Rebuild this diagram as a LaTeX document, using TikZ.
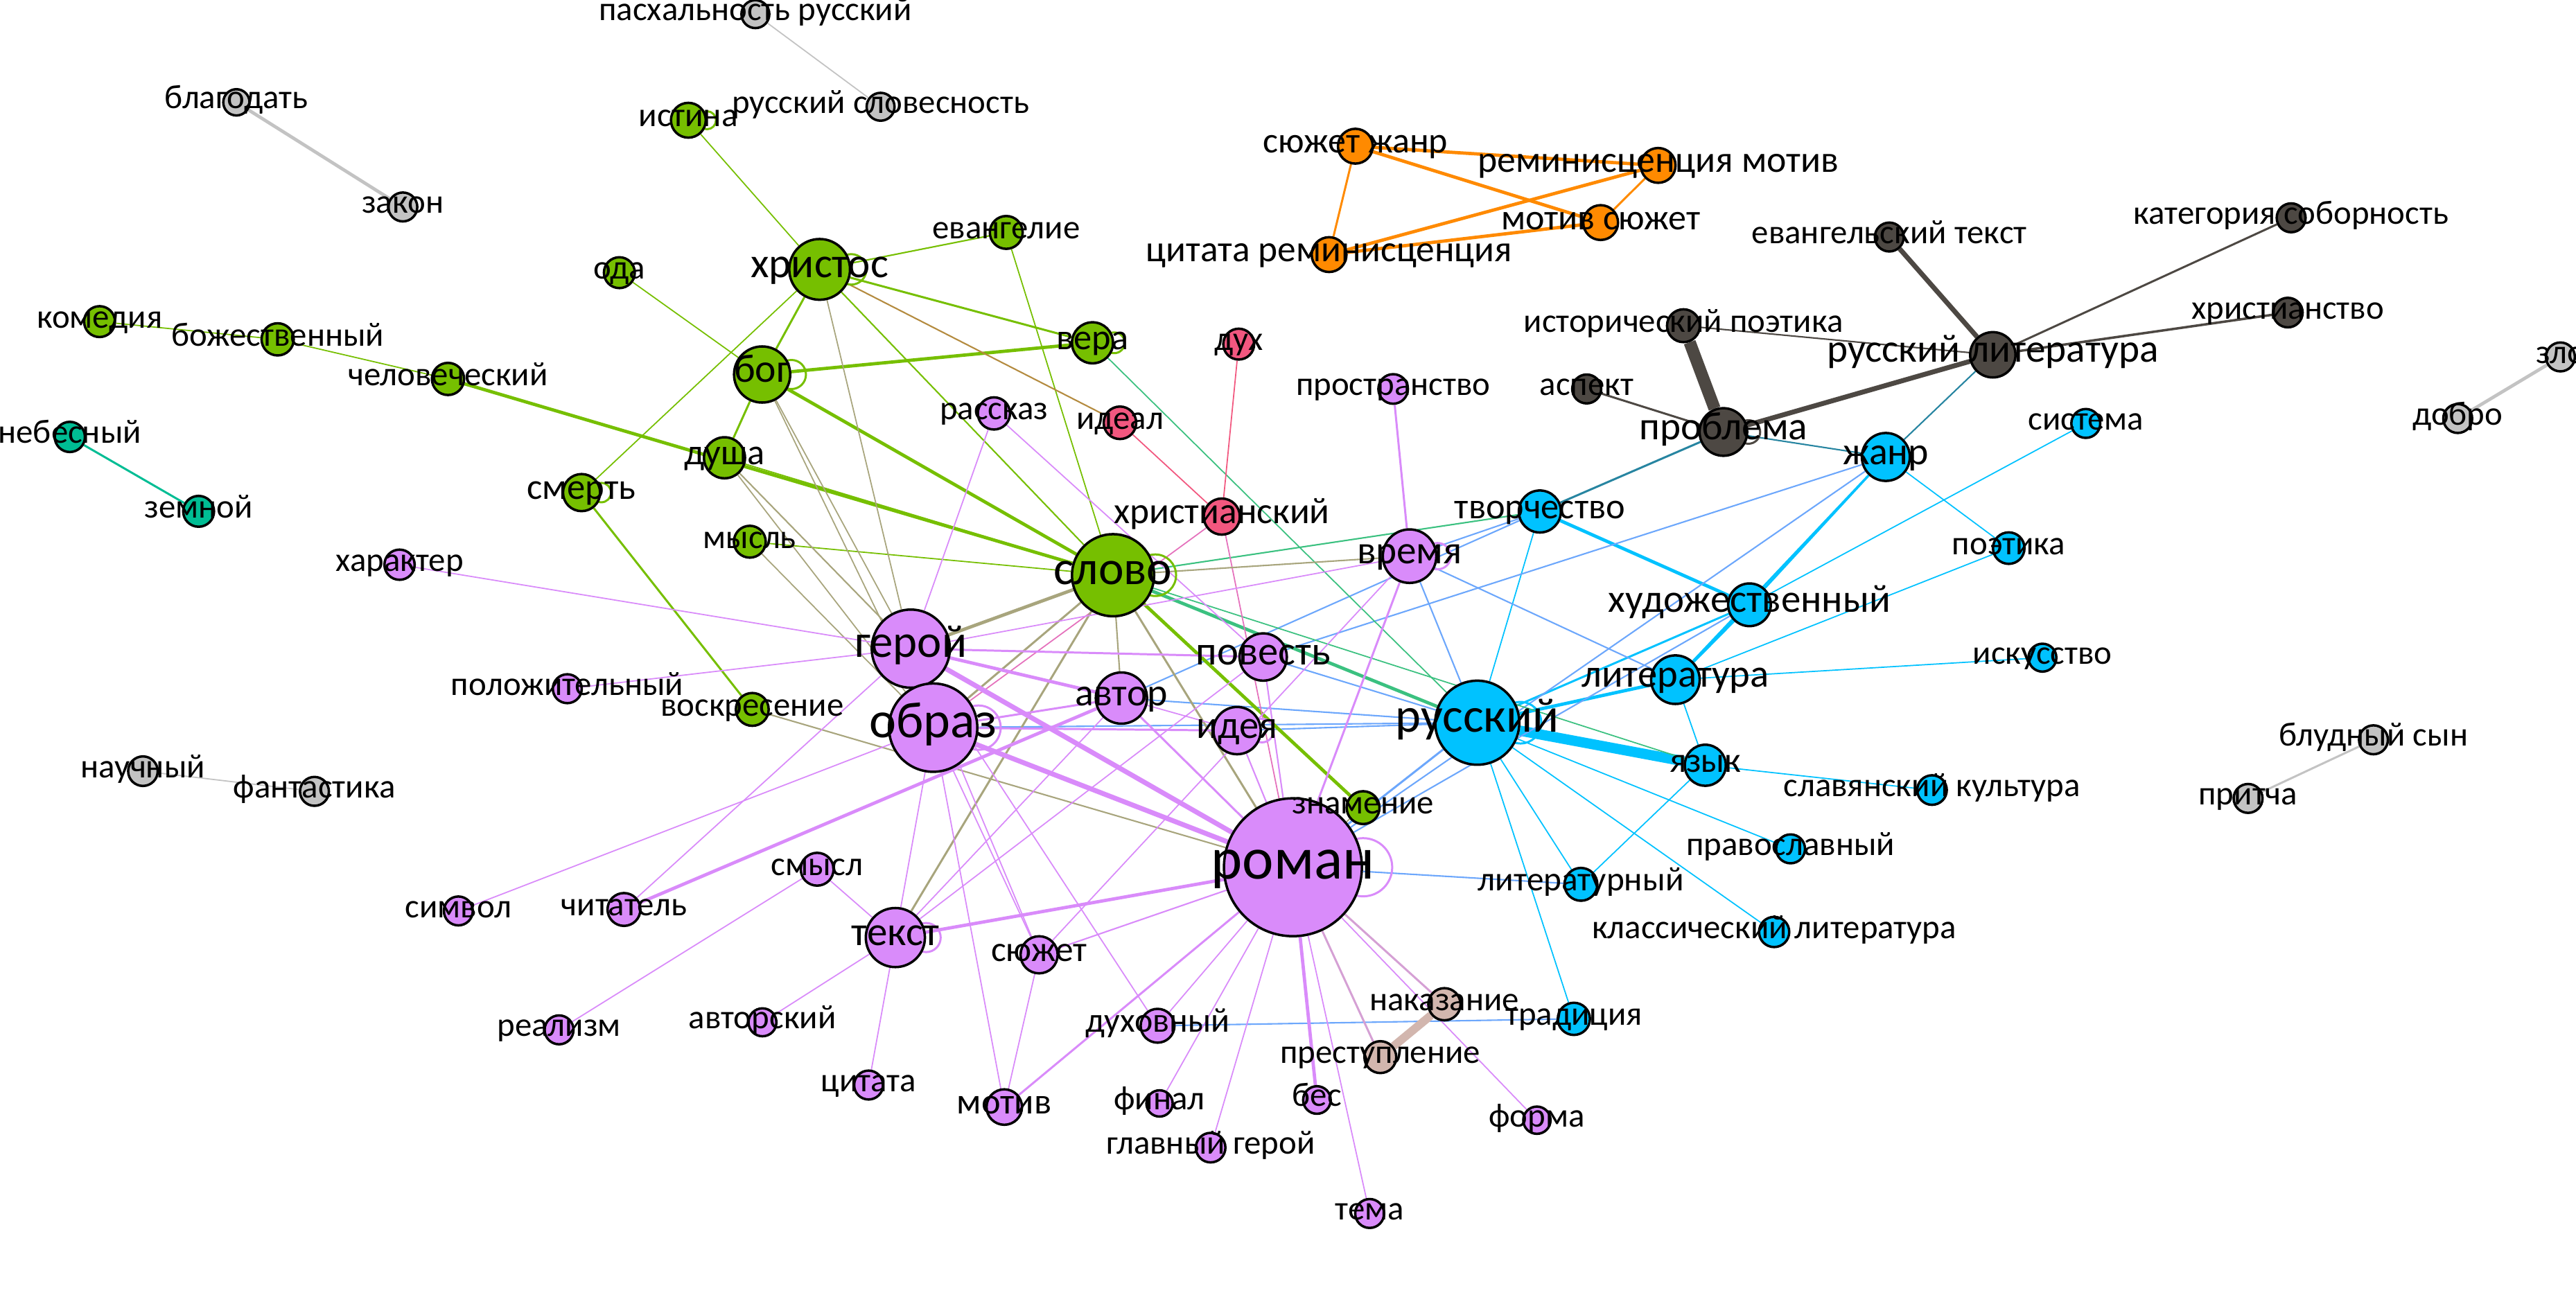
\documentclass[tikz,border=0pt]{standalone}
\usepackage{fontspec}
\setmainfont{Carlito}
\usepackage{xcolor}
\usepackage{tikz}
\definecolor{grn}{HTML}{76BF00}
\definecolor{vio}{HTML}{D98BFA}
\definecolor{blu}{HTML}{00C2FF}
\definecolor{drk}{HTML}{4D4843}
\definecolor{org}{HTML}{FF8A00}
\definecolor{pnk}{HTML}{F2577F}
\definecolor{tea}{HTML}{00BD94}
\definecolor{gry}{HTML}{C3C3C3}
\definecolor{ros}{HTML}{D2B6AE}
\colorlet{gv}{grn!50!vio}
\colorlet{gb}{grn!50!blu}
\colorlet{vb}{vio!50!blu}
\colorlet{gp}{grn!50!pnk}
\colorlet{pv}{pnk!50!vio}
\colorlet{db}{drk!50!blu}
\colorlet{vr}{vio!50!ros}
\pgfdeclarelayer{bg}
\pgfdeclarelayer{edges}
\pgfdeclarelayer{labels}
\pgfsetlayers{bg,edges,main,labels}
% name, x, y, radius, fill, label, label size (pt)
\newcommand{\term}[7]{%
  \node[vert, fill=#5, minimum size=#4*0.0474cm] (#1) at (#2,#3) {};
  \begin{pgfonlayer}{labels}
    \node[lbl, font=\fontsize{#7pt}{#7pt}\selectfont, yshift={-0.19*#7pt}] (#1-l) at (#2,#3) {#6};
  \end{pgfonlayer}}

\begin{document}
\begin{tikzpicture}[x=0.023705cm, y=-0.023705cm,
    vert/.style={circle, draw=black, line width=1pt, inner sep=0pt},
    lbl/.style={anchor=base, inner sep=0pt, text=black}]
  \useasboundingbox (0,0) rectangle (1568,799);
  \begin{pgfonlayer}{bg}
    \fill[white] (0,0) rectangle (1568,799);
  \end{pgfonlayer}

  % grey and teal pairs
  \term{paskh}{459.8}{8.6}{8.5}{gry}{пасхальность русский}{13.9}
  \term{slovrus}{536}{65}{8.5}{gry}{русский словесность}{13.9}
  \term{blagod}{143.9}{62.3}{8}{gry}{благодать}{13.9}
  \term{zakon}{245.2}{126}{8.8}{gry}{закон}{13.9}
  \term{nauch}{87}{469.5}{9}{gry}{научный}{13.9}
  \term{fant}{191.4}{481.8}{8.8}{gry}{фантастика}{13.9}
  \term{bludn}{1444.7}{450.4}{8.8}{gry}{блудный сын}{13.9}
  \term{pritcha}{1368.4}{486.1}{8.8}{gry}{притча}{13.9}
  \term{zlo}{1558.5}{217.3}{8.8}{gry}{зло}{13.9}
  \term{dobro}{1496}{254.8}{8.8}{gry}{добро}{13.9}
  \term{nebes}{42.5}{266}{9.2}{tea}{небесный}{13.9}
  \term{zemn}{120.9}{311.3}{9.4}{tea}{земной}{13.9}

  % green
  \term{istina}{419}{73.2}{10.6}{grn}{истина}{14}
  \term{khristos}{498.9}{164}{18.5}{grn}{христос}{17.4}
  \term{evang}{612.5}{141.5}{10}{grn}{евангелие}{13.9}
  \term{oda}{377}{166}{9.4}{grn}{ода}{13.9}
  \term{komed}{60.6}{195.8}{9.4}{grn}{комедия}{13.9}
  \term{bozhest}{169}{206.6}{9.8}{grn}{божественный}{13.9}
  \term{chelov}{272.7}{230.7}{9.8}{grn}{человеческий}{13.9}
  \term{bog}{463.9}{228}{17.1}{grn}{бог}{16.4}
  \term{vera}{665}{208.7}{12.5}{grn}{вера}{14.9}
  \term{dusha}{441}{278.7}{12.5}{grn}{душа}{14.9}
  \term{smert}{354}{299.9}{11.3}{grn}{смерть}{15}
  \term{mysl}{456.4}{329.8}{9.7}{grn}{мысль}{13.9}
  \term{slovo}{677.5}{350.2}{25}{grn}{слово}{19.7}
  \term{voskres}{457.9}{431.9}{10}{grn}{воскресение}{13.9}
  \term{znamen}{829.7}{491.7}{10}{grn}{знамение}{13.9}

  % pink
  \term{dukh}{754}{209.5}{9.4}{pnk}{дух}{13.9}
  \term{ideal}{681.7}{257.4}{9.9}{pnk}{идеал}{13.9}
  \term{khrist}{743.7}{314.5}{11}{pnk}{христианский}{15.2}

  % violet
  \term{prostr}{848}{236.8}{9}{vio}{пространство}{13.9}
  \term{rasskaz}{605}{251.7}{9.8}{vio}{рассказ}{13.9}
  \term{kharakt}{243.2}{343.8}{9.2}{vio}{характер}{13.9}
  \term{vremya}{858}{338.6}{16.3}{vio}{время}{16.3}
  \term{geroj}{554.4}{394.9}{23.8}{vio}{герой}{19}
  \term{povest}{768.9}{400}{14.4}{vio}{повесть}{16.7}
  \term{polozh}{345.3}{419.3}{8.8}{vio}{положительный}{13.9}
  \term{avtor}{682.6}{425}{15.6}{vio}{автор}{15.9}
  \term{obraz}{568}{443}{26.9}{vio}{образ}{21}
  \term{ideya}{753}{444.8}{14.4}{vio}{идея}{16.1}
  \term{roman}{787}{528}{42}{vio}{роман}{24.5}
  \term{smysl}{497.4}{529.2}{10}{vio}{смысл}{14}
  \term{simvol}{279}{554.6}{8.8}{vio}{символ}{13.9}
  \term{chitat}{379.8}{553.7}{10}{vio}{читатель}{13.9}
  \term{tekst}{545}{570.8}{18}{vio}{текст}{16.8}
  \term{syuzhet}{632.5}{581.3}{11.3}{vio}{сюжет}{14.6}
  \term{realizm}{340.3}{627}{8.8}{vio}{реализм}{13.9}
  \term{avtorsk}{464.1}{622.4}{8.5}{vio}{авторский}{13.9}
  \term{tsitata}{528.7}{660.6}{8.8}{vio}{цитата}{13.9}
  \term{dukhovn}{704.6}{624.5}{10.3}{vio}{духовный}{14.2}
  \term{motiv}{611.3}{674}{10.8}{vio}{мотив}{14.9}
  \term{final}{705.8}{671.8}{8}{vio}{финал}{13.9}
  \term{glavn}{736.9}{698.7}{9}{vio}{главный герой}{13.9}
  \term{bes}{801.6}{669.7}{8.4}{vio}{бес}{13.9}
  \term{tema}{833.7}{738.8}{8.8}{vio}{тема}{13.9}
  \term{forma}{935.5}{682}{8.3}{vio}{форма}{13.9}
  \term{nakaz}{879.2}{611.4}{9.8}{ros}{наказание}{13.9}
  \term{prestup}{840.2}{643.6}{9.7}{ros}{преступление}{13.9}

  % dark
  \term{evtekst}{1150}{144.3}{8.8}{drk}{евангельский текст}{13.9}
  \term{sobor}{1394.6}{132.6}{8.8}{drk}{категория соборность}{13.9}
  \term{istpoet}{1024.7}{198.3}{10}{drk}{исторический поэтика}{13.9}
  \term{ruslit}{1213}{216}{13.8}{drk}{русский литература}{16.3}
  \term{khristvo}{1392.6}{190.3}{9}{drk}{христианство}{13.9}
  \term{aspekt}{965.8}{236.8}{8.8}{drk}{аспект}{13.9}
  \term{problema}{1049}{263}{14.5}{drk}{проблема}{16.3}

  % blue
  \term{zhanr}{1147.9}{278.2}{14.6}{blu}{жанр}{15.9}
  \term{sistema}{1269.6}{257.8}{8.8}{blu}{система}{13.9}
  \term{tvorch}{937.3}{311.4}{12.8}{blu}{творчество}{14.9}
  \term{poetika}{1222.7}{333.7}{9.6}{blu}{поэтика}{13.9}
  \term{khudozh}{1064.9}{368.2}{13}{blu}{художественный}{16.2}
  \term{literat}{1019.8}{413.8}{14.8}{blu}{литература}{16.1}
  \term{iskusstvo}{1243.2}{400.4}{8.5}{blu}{искусство}{13.9}
  \term{russkij}{899.2}{440}{25.6}{blu}{русский}{20}
  \term{yazyk}{1038}{465.9}{12.5}{blu}{язык}{14.5}
  \term{slavyan}{1176}{481}{9}{blu}{славянский культура}{13.9}
  \term{pravosl}{1089.9}{516.8}{8.8}{blu}{православный}{13.9}
  \term{literatn}{962.3}{538.4}{10}{blu}{литературный}{14}
  \term{klassich}{1079.9}{567.4}{9.2}{blu}{классический литература}{13.9}
  \term{tradits}{958}{620.3}{9.8}{blu}{традиция}{13.9}

  % orange
  \term{syuzhzhanr}{825}{89}{10.6}{org}{сюжет жанр}{14.8}
  \term{reminmot}{1009.3}{100.7}{10.6}{org}{реминисценция мотив}{15.3}
  \term{motsyuzh}{974.3}{135.5}{10.6}{org}{мотив сюжет}{14.8}
  \term{tsitremin}{809}{155}{10.6}{org}{цитата реминисценция}{15.2}

  \begin{pgfonlayer}{edges}
    % pairs
    \foreach \a/\b/\w in {paskh/slovrus/0.5, blagod/zakon/1.35, nauch/fant/0.5,
        bludn/pritcha/0.85, zlo/dobro/1.35}
      \draw[gry, line width=\w pt] (\a) -- (\b);
    \draw[tea, line width=0.85pt] (nebes) -- (zemn);
    % orange
    \foreach \a/\b/\w in {syuzhzhanr/reminmot/1.35, syuzhzhanr/motsyuzh/1.35,
        syuzhzhanr/tsitremin/0.85, tsitremin/reminmot/1.35, tsitremin/motsyuzh/1.35,
        motsyuzh/reminmot/0.85}
      \draw[org, line width=\w pt] (\a) -- (\b);
    % dark
    \foreach \a/\b/\w in {evtekst/ruslit/2, sobor/ruslit/0.85, khristvo/ruslit/1,
        istpoet/ruslit/0.6, istpoet/problema/5, aspekt/problema/0.85, problema/ruslit/2}
      \draw[drk, line width=\w pt] (\a) -- (\b);
    \foreach \a/\b/\w in {problema/zhanr/0.6, problema/tvorch/0.85, ruslit/zhanr/0.6}
      \draw[db, line width=\w pt] (\a) -- (\b);
    % blue
    \foreach \a/\b/\w in {zhanr/poetika/0.5, zhanr/khudozh/0.85, zhanr/literat/0.85,
        tvorch/khudozh/1.35, tvorch/russkij/0.5, sistema/khudozh/0.5,
        khudozh/russkij/0.85, khudozh/literat/1.35, literat/russkij/1.35,
        literat/poetika/0.5, literat/iskusstvo/0.5, literat/yazyk/0.5,
        russkij/yazyk/4.2, yazyk/slavyan/0.5, yazyk/literatn/0.5, russkij/pravosl/0.5,
        russkij/klassich/0.5, russkij/literatn/0.5, russkij/tradits/0.5}
      \draw[blu, line width=\w pt] (\a) -- (\b);
    \foreach \a/\b/\w in {roman/zhanr/0.6, povest/zhanr/0.6, vremya/tvorch/0.6,
        vremya/russkij/0.6, vremya/literat/0.6, roman/russkij/0.85, roman/literatn/0.6,
        roman/khudozh/0.6, obraz/russkij/0.6, ideya/russkij/0.6, avtor/russkij/0.6,
        povest/russkij/0.6, dukhovn/tradits/0.6, avtor/tvorch/0.6}
      \draw[vb, line width=\w pt] (\a) -- (\b);
    \foreach \a/\b/\w in {slovo/russkij/1.35, slovo/yazyk/0.5, slovo/tvorch/0.6,
        vera/russkij/0.5}
      \draw[gb, line width=\w pt] (\a) -- (\b);
    % green
    \foreach \a/\b/\w in {istina/khristos/0.5, khristos/evang/0.6, khristos/vera/0.85,
        khristos/bog/0.85, khristos/smert/0.5, khristos/slovo/0.6, bog/vera/1.35,
        bog/dusha/0.85, bog/slovo/1.35, oda/bog/0.5, chelov/slovo/1.35,
        komed/bozhest/0.5, bozhest/chelov/0.5, smert/voskres/0.85, dusha/slovo/0.5,
        mysl/slovo/0.5, evang/slovo/0.5, slovo/znamen/1.35}
      \draw[grn, line width=\w pt] (\a) -- (\b);
    \draw[gp, line width=0.6pt] (khristos) -- (ideal);
    \foreach \a/\b in {dukh/khrist, ideal/khrist}
      \draw[pnk, line width=0.5pt] (\a) -- (\b);
    \foreach \a/\b in {khrist/obraz, khrist/roman}
      \draw[pv, line width=0.5pt] (\a) -- (\b);
    \foreach \a/\b/\w in {bog/geroj/0.5, bog/obraz/0.5, khristos/geroj/0.5,
        dusha/geroj/0.6, dusha/obraz/0.5, mysl/obraz/0.5, voskres/roman/0.6,
        slovo/geroj/1.35, slovo/obraz/0.85, slovo/avtor/0.6, slovo/roman/0.85,
        slovo/tekst/0.85, slovo/vremya/0.6, znamen/roman/0.5}
      \draw[gv, line width=\w pt] (\a) -- (\b);
    % violet
    \foreach \a/\b/\w in {prostr/vremya/0.85, vremya/roman/0.85, vremya/syuzhet/0.5,
        vremya/geroj/0.5, rasskaz/geroj/0.5, rasskaz/povest/0.5, kharakt/geroj/0.5,
        polozh/geroj/0.5, geroj/roman/2, geroj/avtor/1.35, geroj/povest/0.85,
        geroj/chitat/0.5, geroj/syuzhet/0.5, geroj/dukhovn/0.5, geroj/obraz/0.85,
        obraz/roman/2, obraz/avtor/0.85, obraz/ideya/0.85, obraz/simvol/0.5,
        obraz/tekst/0.5, obraz/syuzhet/0.5, obraz/motiv/0.5, motiv/syuzhet/0.5,
        motiv/roman/0.85, dukhovn/roman/0.5, final/roman/0.5, glavn/roman/0.5,
        tekst/roman/1.35, tekst/smysl/0.5, tekst/avtorsk/0.5, tekst/tsitata/0.5,
        tekst/avtor/0.5, tekst/povest/0.5, syuzhet/roman/0.6, smysl/realizm/0.5,
        avtor/chitat/1.35, roman/bes/1.35, roman/tema/0.5, roman/forma/0.5,
        roman/avtor/0.85, roman/ideya/0.6, roman/povest/0.6, avtor/ideya/0.5}
      \draw[vio, line width=\w pt] (\a) -- (\b);
    \foreach \a/\b in {roman/nakaz, roman/prestup}
      \draw[vr, line width=0.85pt] (\a) -- (\b);
    \draw[ros, line width=3.4pt] (nakaz) -- (prestup);
    % self loops
    \foreach \nd/\col/\d in {istina/grn/0.13, khristos/grn/0.22, bog/grn/0.21,
        vera/grn/0.15, smert/grn/0.14, slovo/grn/0.3, obraz/vio/0.32, ideya/vio/0.17,
        roman/vio/0.42, tekst/vio/0.21, vremya/vio/0.19, russkij/blu/0.3, problema/drk/0.17}
      \draw[draw=\col, line width=0.85pt] (\nd.east) circle[radius=\d cm];
  \end{pgfonlayer}
\end{tikzpicture}
\end{document}
